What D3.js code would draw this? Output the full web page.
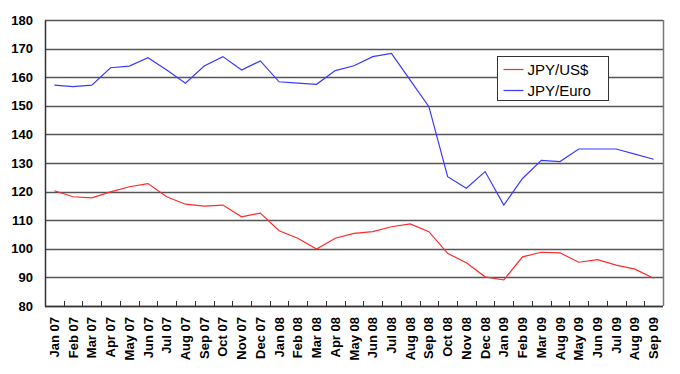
<!DOCTYPE html>
<html>
<head>
<meta charset="utf-8">
<script src="https://cdn.jsdelivr.net/npm/d3@7"></script>
<style>
    body { margin: 0; background: #fff; }
    svg { display: block; }
</style>
</head>
<body>
<div id="chart"></div>
<script>
// Month labels as printed in the original (note the "Aug 09" after "Mar 09")
const months = [
    'Jan 07', 'Feb 07', 'Mar 07', 'Apr 07', 'May 07', 'Jun 07', 'Jul 07', 'Aug 07', 'Sep 07', 'Oct 07', 'Nov 07', 'Dec 07',
    'Jan 08', 'Feb 08', 'Mar 08', 'Apr 08', 'May 08', 'Jun 08', 'Jul 08', 'Aug 08', 'Sep 08', 'Oct 08', 'Nov 08', 'Dec 08',
    'Jan 09', 'Feb 09', 'Mar 09', 'Aug 09', 'May 09', 'Jun 09', 'Jul 09', 'Aug 09', 'Sep 09'
];

const jpyUsd = [
    120.3, 118.2, 117.8, 119.9, 121.7, 122.8, 118.2, 115.6, 114.9, 115.3, 111.2, 112.5,
    106.3, 103.7, 99.9, 103.7, 105.4, 106.0, 107.7, 108.7, 106.0, 98.4, 95.1, 90.2,
    89.1, 97.2, 98.8, 98.6, 95.3, 96.2, 94.3, 92.9, 89.7
];

const jpyEuro = [
    157.2, 156.7, 157.2, 163.3, 163.9, 166.8, 162.5, 157.9, 163.9, 167.2, 162.5, 165.7,
    158.4, 157.9, 157.5, 162.3, 164.0, 167.2, 168.3, 159.0, 149.7, 125.2, 121.2, 127.0,
    115.3, 124.6, 130.9, 130.5, 134.9, 134.9, 134.9, 133.1, 131.3
];

const yTicks = [80, 90, 100, 110, 120, 130, 140, 150, 160, 170, 180];

const seriesNames = ['JPY/US$', 'JPY/Euro'];

const width = 680;
const height = 374;
const margin = { top: 20, right: 17, bottom: 68, left: 45 };
const innerWidth = width - margin.left - margin.right;
const innerHeight = height - margin.top - margin.bottom;

const colors = { usd: '#ff2a2a', euro: '#3a3aff' };
const font = '"Liberation Sans", Arial, sans-serif';

const svg = d3.select('#chart')
    .append('svg')
    .attr('width', width)
    .attr('height', height);

const g = svg.append('g')
    .attr('transform', `translate(${margin.left}, ${margin.top})`);

// Scales: one band per month, points sit in the band centre
const xScale = d3.scaleBand()
    .domain(d3.range(months.length))
    .range([0, innerWidth]);

const yScale = d3.scaleLinear()
    .domain([80, 180])
    .range([innerHeight, 0]);

// Horizontal gridlines
g.append('g')
    .attr('class', 'grid')
    .selectAll('line')
    .data(yTicks)
    .enter()
    .append('line')
    .attr('x1', 0)
    .attr('x2', innerWidth)
    .attr('y1', d => Math.round(yScale(d)) + 0.5)
    .attr('y2', d => Math.round(yScale(d)) + 0.5)
    .attr('stroke', '#555')
    .attr('stroke-width', 1.5);

// Right border of the plot area
g.append('line')
    .attr('x1', innerWidth + 0.5)
    .attr('x2', innerWidth + 0.5)
    .attr('y1', 0)
    .attr('y2', innerHeight)
    .attr('stroke', '#777')
    .attr('stroke-width', 1.5);

// Y axis
const yAxis = g.append('g')
    .attr('class', 'y-axis')
    .call(d3.axisLeft(yScale).tickValues(yTicks).tickSize(0).tickPadding(12));

yAxis.select('.domain').attr('stroke', '#333').attr('stroke-width', 1.5);
yAxis.selectAll('text')
    .style('font-family', font)
    .style('font-size', '13px')
    .style('font-weight', 'bold')
    .style('fill', '#000');

// X axis: inward ticks on band boundaries, labels rotated
const xAxisG = g.append('g')
    .attr('class', 'x-axis')
    .attr('transform', `translate(0, ${innerHeight})`);

xAxisG.append('line')
    .attr('x1', 0)
    .attr('x2', innerWidth)
    .attr('y1', 0.5)
    .attr('y2', 0.5)
    .attr('stroke', '#333')
    .attr('stroke-width', 1.5);

xAxisG.selectAll('.tick-mark')
    .data(d3.range(1, months.length))
    .enter()
    .append('line')
    .attr('class', 'tick-mark')
    .attr('x1', d => Math.round(xScale(d)) + 0.5)
    .attr('x2', d => Math.round(xScale(d)) + 0.5)
    .attr('y1', 0)
    .attr('y2', -5)
    .attr('stroke', '#333');

xAxisG.selectAll('.tick-label')
    .data(months)
    .enter()
    .append('text')
    .attr('class', 'tick-label')
    .attr('transform', (d, i) => `translate(${xScale(i) + xScale.bandwidth() / 2}, 11) rotate(-90)`)
    .attr('dy', '0.35em')
    .attr('text-anchor', 'end')
    .style('font-family', font)
    .style('font-size', '13px')
    .style('font-weight', 'bold')
    .style('fill', '#000')
    .text(d => d);

// Lines
const line = d3.line()
    .x((d, i) => xScale(i) + xScale.bandwidth() / 2)
    .y(d => yScale(d));

g.append('path')
    .datum(jpyUsd)
    .attr('fill', 'none')
    .attr('stroke', colors.usd)
    .attr('stroke-width', 1.2)
    .attr('d', line);

g.append('path')
    .datum(jpyEuro)
    .attr('fill', 'none')
    .attr('stroke', colors.euro)
    .attr('stroke-width', 1.2)
    .attr('d', line);

// Legend
const legend = svg.append('g')
    .attr('transform', 'translate(497.5, 56.5)');

legend.append('rect')
    .attr('width', 111)
    .attr('height', 44)
    .attr('fill', '#fff')
    .attr('stroke', '#333')
    .attr('stroke-width', 1);

[colors.usd, colors.euro].forEach((c, i) => {
    const yPos = 13 + i * 21;
    legend.append('line')
        .attr('x1', 6)
        .attr('x2', 26)
        .attr('y1', yPos)
        .attr('y2', yPos)
        .attr('stroke', c)
        .attr('stroke-width', 1.2);
    legend.append('text')
        .attr('x', 30)
        .attr('y', yPos)
        .attr('dy', '0.35em')
        .style('font-family', font)
        .style('font-size', '15px')
        .style('fill', '#000')
        .text(seriesNames[i]);
});
</script>
</body>
</html>
